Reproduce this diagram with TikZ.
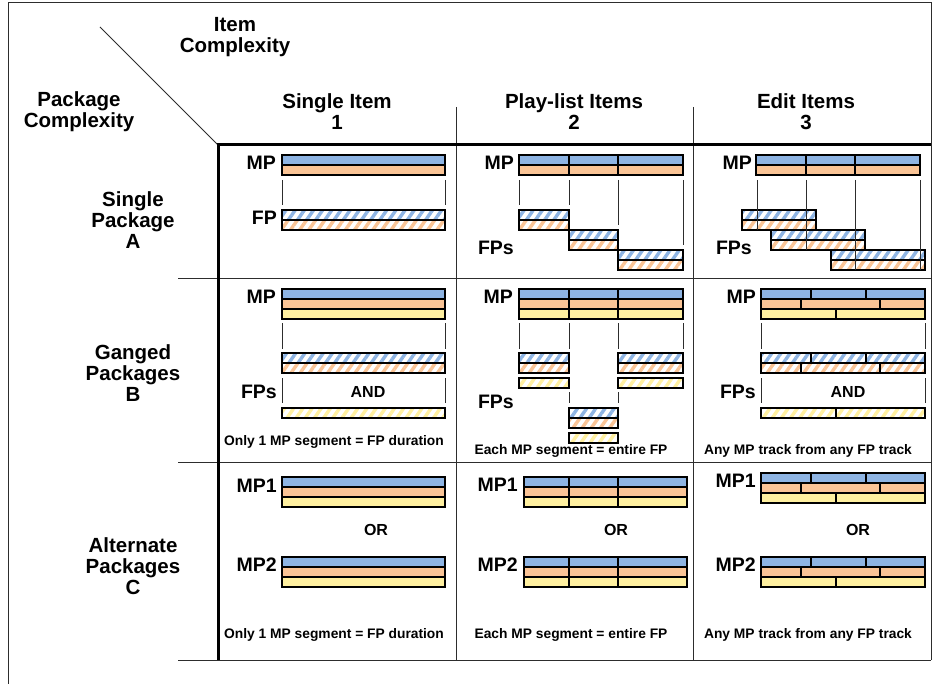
\documentclass[tikz,border=0pt]{standalone}
\usepackage{fontspec}
\setmainfont{Liberation Sans}
\usetikzlibrary{patterns.meta}
\definecolor{trkblue}{RGB}{142,180,227}
\definecolor{trkorange}{RGB}{250,196,150}
\definecolor{trkyellow}{RGB}{255,240,160}
\definecolor{rulegray}{RGB}{45,45,45}
\newcommand{\trk}[4]{\draw[#4] (#1,#3) rectangle (#2,#3+10);}

\begin{document}
\begin{tikzpicture}[
      x=1pt, y=-1pt,
      mpb/.style={draw=black, line width=1.1pt, fill=trkblue},
      mpo/.style={draw=black, line width=1.1pt, fill=trkorange},
      mpy/.style={draw=black, line width=1.1pt, fill=trkyellow},
      hatch/.style={draw=black, line width=1.1pt, pattern={Lines[angle=55,distance=7.5pt,line width=3.4pt]}, pattern color=#1},
      fpb/.style={hatch=trkblue},
      fpo/.style={hatch=trkorange},
      fpy/.style={hatch=trkyellow},
      mpframe/.style={draw=black, line width=2.4pt},
      guide/.style={draw=rulegray, line width=0.9pt},
      cellline/.style={draw=rulegray, line width=1pt},
      heavyline/.style={draw=black, line width=3pt},
      headtxt/.style={font=\bfseries\fontsize{20.5}{21}\selectfont, align=center, inner sep=0pt},
      tagtxt/.style={font=\bfseries\fontsize{19.5}{21}\selectfont, anchor=east, inner sep=0pt},
      optxt/.style={font=\bfseries\fontsize{16}{18}\selectfont, inner sep=0pt},
      notetxt/.style={font=\bfseries\fontsize{13.8}{15}\selectfont, inner sep=0pt}
    ]
    \useasboundingbox (0,0) rectangle (941,684);

    % frame and grid
    \draw[cellline] (8,684) -- (8,2.5) -- (931,2.5) -- (931,660);
    \draw[cellline] (100,27) -- (218,145);
    \foreach \y in {279,462,660} \draw[cellline] (178,\y) -- (931,\y);
    \foreach \x in {456,693} \draw[cellline] (\x,107) -- (\x,660);
    \draw[heavyline] (218,660) -- (218,145) -- (931,145);

    % headings
    \node[headtxt] (itemhd) at (235,37) {Item\\Complexity};
    \node[headtxt] (pkghd) at (79,112) {Package\\Complexity};
    \node[headtxt] (col1) at (337,112) {Single Item\\1};
    \node[headtxt] (col2) at (574,112) {Play-list Items\\2};
    \node[headtxt] (col3) at (806,112) {Edit Items\\3};
    \node[headtxt] (rowA) at (133,220) {Single\\Package\\A};
    \node[headtxt] (rowB) at (133,373) {Ganged\\Packages\\B};
    \node[headtxt] (rowC) at (133,566) {Alternate\\Packages\\C};

    % A1
    \trk{282}{445}{155}{mpb} \trk{282}{445}{165}{mpo}
    \draw[mpframe] (282,155) rectangle (445,175);
    \foreach \x in {282,445} \draw[guide] (\x,180) -- (\x,205);
    \trk{282}{445}{210}{fpb} \trk{282}{445}{220}{fpo}
    \node[tagtxt] (mpA1) at (276,163) {MP};
    \node[tagtxt] (fpA1) at (277,218) {FP};

    % A2
    \foreach \a/\b in {519/569,569/618,618/683} {\trk{\a}{\b}{155}{mpb} \trk{\a}{\b}{165}{mpo}}
    \draw[mpframe] (519,155) rectangle (683,175);
    \foreach \x/\e in {519/205,569/205,618/225,683/245} \draw[guide] (\x,180) -- (\x,\e);
    \foreach \a/\b/\t in {519/569/210,569/618/230,618/683/250} {\trk{\a}{\b}{\t}{fpb} \trk{\a}{\b}{\t+10}{fpo}}
    \node[tagtxt] (mpA2) at (514,163) {MP};
    \node[tagtxt] (fpA2) at (514,248) {FPs};

    % A3
    \foreach \a/\b in {756/806,806/855,855/920} {\trk{\a}{\b}{155}{mpb} \trk{\a}{\b}{165}{mpo}}
    \draw[mpframe] (756,155) rectangle (920,175);
    \foreach \a/\b/\t in {742/816/210,771/865/230,831/925/250} {\trk{\a}{\b}{\t}{fpb} \trk{\a}{\b}{\t+10}{fpo}}
    \foreach \x/\e in {757/230,806/250,855/270,920/270} \draw[guide] (\x,180) -- (\x,\e);
    \node[tagtxt] (mpA3) at (752,163) {MP};
    \node[tagtxt] (fpA3) at (752,248) {FPs};

    % B1
    \trk{282}{445}{289}{mpb} \trk{282}{445}{299}{mpo} \trk{282}{445}{309}{mpy}
    \draw[mpframe] (282,289) rectangle (445,319);
    \foreach \x in {282,445} {\draw[guide] (\x,323) -- (\x,349); \draw[guide] (\x,378) -- (\x,403);}
    \trk{282}{445}{353}{fpb} \trk{282}{445}{363}{fpo} \trk{282}{445}{408}{fpy}
    \node[tagtxt] (mpB1) at (276,297) {MP};
    \node[tagtxt] (fpB1) at (277,392) {FPs};
    \node[optxt] (andB1) at (368,392) {AND};
    \node[notetxt] (noteB1) at (334,442) {Only 1 MP segment = FP duration};

    % B2
    \foreach \a/\b in {519/569,569/618,618/683} {\trk{\a}{\b}{289}{mpb} \trk{\a}{\b}{299}{mpo} \trk{\a}{\b}{309}{mpy}}
    \draw[mpframe] (519,289) rectangle (683,319);
    \foreach \x in {519,569,618,683} \draw[guide] (\x,323) -- (\x,349);
    \foreach \x in {569,618} \draw[guide] (\x,392) -- (\x,403);
    \foreach \a/\b/\t in {519/569/353,618/683/353,569/618/408} {\trk{\a}{\b}{\t}{fpb} \trk{\a}{\b}{\t+10}{fpo} \trk{\a}{\b}{\t+25}{fpy}}
    \node[tagtxt] (mpB2) at (513,297) {MP};
    \node[tagtxt] (fpB2) at (514,402) {FPs};
    \node[notetxt] (noteB2) at (571,451) {Each MP segment = entire FP};

    % B3
    \foreach \a/\b in {761/811,811/866,866/925} {\trk{\a}{\b}{289}{mpb} \trk{\a}{\b}{353}{fpb}}
    \foreach \a/\b in {761/801,801/880,880/925} {\trk{\a}{\b}{299}{mpo} \trk{\a}{\b}{363}{fpo}}
    \foreach \a/\b in {761/836,836/925} {\trk{\a}{\b}{309}{mpy} \trk{\a}{\b}{408}{fpy}}
    \draw[mpframe] (761,289) rectangle (925,319);
    \foreach \x in {761,925} {\draw[guide] (\x,323) -- (\x,349); \draw[guide] (\x,378) -- (\x,403);}
    \node[tagtxt] (mpB3) at (756,297) {MP};
    \node[tagtxt] (fpB3) at (756,392) {FPs};
    \node[optxt] (andB3) at (848,392) {AND};
    \node[notetxt] (noteB3) at (808,451) {Any MP track from any FP track};

    % C1
    \foreach \t in {477,557} {\trk{282}{445}{\t}{mpb} \trk{282}{445}{\t+10}{mpo} \trk{282}{445}{\t+20}{mpy}
      \draw[mpframe] (282,\t) rectangle (445,\t+30);}
    \node[tagtxt] (mp1C1) at (277,486) {MP1};
    \node[optxt] (orC1) at (376,530) {OR};
    \node[tagtxt] (mp2C1) at (277,565) {MP2};
    \node[notetxt] (noteC1) at (334,635) {Only 1 MP segment = FP duration};

    % C2
    \foreach \t in {477,557} {
      \foreach \a/\b in {524/569,569/618,618/687} {\trk{\a}{\b}{\t}{mpb} \trk{\a}{\b}{\t+10}{mpo} \trk{\a}{\b}{\t+20}{mpy}}
      \draw[mpframe] (524,\t) rectangle (687,\t+30);}
    \node[tagtxt] (mp1C2) at (518,485) {MP1};
    \node[optxt] (orC2) at (616,530) {OR};
    \node[tagtxt] (mp2C2) at (518,565) {MP2};
    \node[notetxt] (noteC2) at (571,635) {Each MP segment = entire FP};

    % C3
    \foreach \t in {473,557} {
      \foreach \a/\b in {761/811,811/866,866/925} \trk{\a}{\b}{\t}{mpb};
      \foreach \a/\b in {761/801,801/880,880/925} \trk{\a}{\b}{\t+10}{mpo};
      \foreach \a/\b in {761/836,836/925} \trk{\a}{\b}{\t+20}{mpy};
      \draw[mpframe] (761,\t) rectangle (925,\t+30);}
    \node[tagtxt] (mp1C3) at (756,481) {MP1};
    \node[optxt] (orC3) at (858,530) {OR};
    \node[tagtxt] (mp2C3) at (756,565) {MP2};
    \node[notetxt] (noteC3) at (808,635) {Any MP track from any FP track};
  \end{tikzpicture}
\end{document}
